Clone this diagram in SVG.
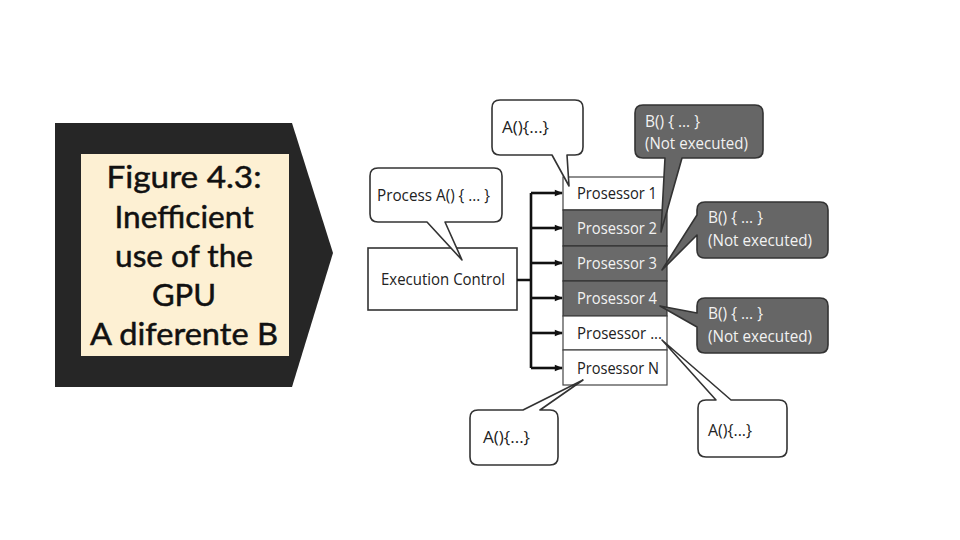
<svg xmlns="http://www.w3.org/2000/svg" width="960" height="540" viewBox="0 0 960 540">
<defs>
<style>
.title{font-family:Lato,"Open Sans",sans-serif;font-size:31px;fill:#111;text-anchor:middle;stroke:#111;stroke-width:0.5}
.lbl{font-family:"Open Sans","Liberation Sans",sans-serif;font-size:17px;fill:#222}
.lblw{font-family:"Open Sans","Liberation Sans",sans-serif;font-size:17px;fill:#f2f2f2}
.co{fill:#fff;stroke:#333;stroke-width:1.6;stroke-linejoin:round}
.cod{fill:#666;stroke:#333;stroke-width:1.6;stroke-linejoin:round}
.cell{fill:#fff;stroke:#444;stroke-width:1.2}
.celld{fill:#6a6a6a;stroke:#333;stroke-width:1.2}
.wire{stroke:#111;stroke-width:2.6;fill:none}
</style>
<marker id="ah" viewBox="0 0 10 10" refX="9" refY="5" markerWidth="10" markerHeight="8" markerUnits="userSpaceOnUse" orient="auto">
<path d="M0,1 L10,5 L0,9 z" fill="#111"/>
</marker>
</defs>
<rect width="960" height="540" fill="#fff"/>

<g id="title-panel">
<path d="M55,123 L292,123 L333,253 L292,387 L55,387 z" fill="#262626"/>
<rect x="81" y="154" width="208" height="202" fill="#fdf0d3"/>
<text class="title" x="184" y="188" textLength="155" lengthAdjust="spacingAndGlyphs">Figure 4.3:</text>
<text class="title" x="184" y="228" textLength="139" lengthAdjust="spacingAndGlyphs">Inefficient</text>
<text class="title" x="184" y="267" textLength="138" lengthAdjust="spacingAndGlyphs">use of the</text>
<text class="title" x="184" y="306">GPU</text>
<text class="title" x="184" y="345" textLength="188" lengthAdjust="spacingAndGlyphs">A diferente B</text>
</g>

<g id="processors">
<rect class="cell" x="563" y="177" width="104" height="33"/>
<rect class="celld" x="563" y="210" width="104" height="36"/>
<rect class="celld" x="563" y="246" width="104" height="35"/>
<rect class="celld" x="563" y="281" width="104" height="35"/>
<rect class="cell" x="563" y="316" width="104" height="34"/>
<rect class="cell" x="563" y="350" width="104" height="35"/>
<text class="lbl" x="577" y="199" textLength="80" lengthAdjust="spacingAndGlyphs">Prosessor 1</text>
<text class="lblw" x="577" y="234" textLength="80" lengthAdjust="spacingAndGlyphs">Prosessor 2</text>
<text class="lblw" x="577" y="269" textLength="80" lengthAdjust="spacingAndGlyphs">Prosessor 3</text>
<text class="lblw" x="577" y="304" textLength="80" lengthAdjust="spacingAndGlyphs">Prosessor 4</text>
<text class="lbl" x="577" y="339" textLength="85" lengthAdjust="spacingAndGlyphs">Prosessor ...</text>
<text class="lbl" x="577" y="374" textLength="82" lengthAdjust="spacingAndGlyphs">Prosessor N</text>
</g>

<g id="execution-control">
<rect x="368" y="248" width="149" height="62" fill="#fff" stroke="#333" stroke-width="1.6"/>
<text class="lbl" x="381" y="285" textLength="124" lengthAdjust="spacingAndGlyphs">Execution Control</text>
</g>

<g id="connectors">
<path class="wire" d="M517,280 L531,280 M531,193 L531,368"/>
<path class="wire" marker-end="url(#ah)" d="M531,193 L562,193"/>
<path class="wire" marker-end="url(#ah)" d="M531,228 L562,228"/>
<path class="wire" marker-end="url(#ah)" d="M531,263 L562,263"/>
<path class="wire" marker-end="url(#ah)" d="M531,298 L562,298"/>
<path class="wire" marker-end="url(#ah)" d="M531,333 L562,333"/>
<path class="wire" marker-end="url(#ah)" d="M531,368 L562,368"/>
</g>

<g id="callout-process-a">
<path class="co" d="M378,168 H494 Q502,168 502,176 V214 Q502,222 494,222 H445 L462,260 L427,222 H378 Q370,222 370,214 V176 Q370,168 378,168 z"/>
<text class="lbl" x="377" y="201" textLength="113" lengthAdjust="spacingAndGlyphs">Process A() { ... }</text>
</g>

<g id="callout-a-top">
<path class="co" d="M500,100 H575 Q583,100 583,108 V147 Q583,155 575,155 H567 L569,186 L552,155 H500 Q492,155 492,147 V108 Q492,100 500,100 z"/>
<text class="lbl" x="502" y="133" textLength="47" lengthAdjust="spacingAndGlyphs">A(){...}</text>
</g>

<g id="callout-b-1">
<path class="cod" d="M643,105 H755 Q763,105 763,113 V150 Q763,158 755,158 H682 L661,232 L665,158 H643 Q635,158 635,150 V113 Q635,105 643,105 z"/>
<text class="lblw" x="645" y="127" textLength="55" lengthAdjust="spacingAndGlyphs">B() { ... }</text>
<text class="lblw" x="645" y="149" textLength="103" lengthAdjust="spacingAndGlyphs">(Not executed)</text>
</g>

<g id="callout-b-2">
<path class="cod" d="M705,202 H820 Q828,202 828,210 V250 Q828,258 820,258 H705 Q697,258 697,250 V235 L662,270 L697,215 V210 Q697,202 705,202 z"/>
<text class="lblw" x="708" y="223" textLength="55" lengthAdjust="spacingAndGlyphs">B() { ... }</text>
<text class="lblw" x="708" y="246" textLength="104" lengthAdjust="spacingAndGlyphs">(Not executed)</text>
</g>

<g id="callout-b-3">
<path class="cod" d="M705,298 H820 Q828,298 828,306 V345 Q828,353 820,353 H705 Q697,353 697,345 V327 L660,306 L697,313 V306 Q697,298 705,298 z"/>
<text class="lblw" x="708" y="319" textLength="55" lengthAdjust="spacingAndGlyphs">B() { ... }</text>
<text class="lblw" x="708" y="342" textLength="104" lengthAdjust="spacingAndGlyphs">(Not executed)</text>
</g>

<g id="callout-a-bottom-left">
<path class="co" d="M478,410 H523 L583,380 L540,410 H550 Q558,410 558,418 V457 Q558,465 550,465 H478 Q470,465 470,457 V418 Q470,410 478,410 z"/>
<text class="lbl" x="483" y="443" textLength="47" lengthAdjust="spacingAndGlyphs">A(){...}</text>
</g>

<g id="callout-a-bottom-right">
<path class="co" d="M706,400 H716 L662,340 L731,400 H779 Q787,400 787,408 V449 Q787,457 779,457 H706 Q698,457 698,449 V408 Q698,400 706,400 z"/>
<text class="lbl" x="708" y="436" textLength="44" lengthAdjust="spacingAndGlyphs">A(){...}</text>
</g>
</svg>
